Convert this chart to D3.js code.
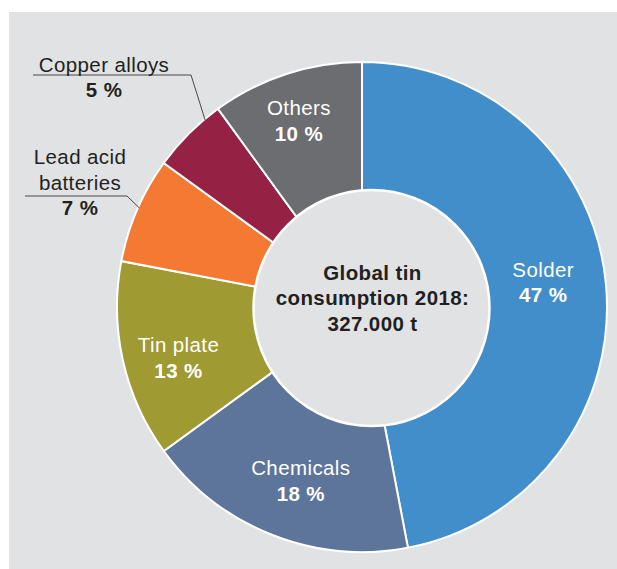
<!DOCTYPE html>
<html>
<head>
<meta charset="utf-8">
<script src="https://cdn.jsdelivr.net/npm/d3@7"></script>
<style>
  html, body { margin: 0; padding: 0; background: #fff; }
  svg { display: block; }
</style>
</head>
<body>
<div id="chart"></div>
<script>
var width = 617,
    height = 569;

// data
var categories = ["Solder", "Chemicals", "Tin plate", "Lead acid batteries", "Copper alloys", "Others"];
var shares = [47, 18, 13, 7, 5, 10];
var nameLines = [["Solder"], ["Chemicals"], ["Tin plate"], ["Lead acid", "batteries"], ["Copper alloys"], ["Others"]];
var centerLines = ["Global tin", "consumption 2018:", "327.000 t"];

var colors = ["#428ecb", "#5d759b", "#9f9a32", "#f47a33", "#952244", "#6c6d70"];

var cx = 362, cy = 307,
    outerR = 245,
    holeX = 371.5, holeY = 308, holeR = 118,
    lineH = 25.5,
    fontSize = 20.5,
    spacing = 0.4;

var data = categories.map(function (c, i) {
    return {name: c, value: shares[i], lines: nameLines[i], color: colors[i]};
});

var svg = d3.select("#chart").append("svg")
    .attr("width", width)
    .attr("height", height)
    .style("font-family", "Arial, 'Liberation Sans', Helvetica, sans-serif");

svg.append("rect")
    .attr("x", 9).attr("y", 12)
    .attr("width", width - 9).attr("height", height - 12)
    .attr("fill", "#e1e2e4");

var pie = d3.pie().sort(null).value(function (d) { return d.value; });
var arcs = pie(data);

var arc = d3.arc().innerRadius(0).outerRadius(outerR);
var labelArc = d3.arc().innerRadius(188).outerRadius(188);

var g = svg.append("g").attr("transform", "translate(" + cx + "," + cy + ")");

g.selectAll("path.slice")
    .data(arcs)
    .enter()
    .append("path")
    .attr("class", "slice")
    .attr("d", arc)
    .attr("fill", function (d) { return d.data.color; })
    .attr("stroke", "#fff")
    .attr("stroke-width", 2);

// the hole sits a little right of the ring centre in the original
svg.append("circle")
    .attr("cx", holeX).attr("cy", holeY).attr("r", holeR)
    .attr("fill", "#e1e2e4")
    .attr("stroke", "#fff")
    .attr("stroke-width", 2.5);

// small hand nudges for inside labels
var nudge = {
    "Solder": [-6, -7],
    "Others": [-5, -7],
    "Chemicals": [8, -1],
    "Tin plate": [0, 10]
};

// outside labels with leader lines
var outside = {
    "Copper alloys": {x: 104, y: 71.5, ruleY: 75, x0: 33, x1: 191, angle: 320},
    "Lead acid batteries": {x: 80, y: 164, ruleY: 196, x0: 25, x1: 127, angle: 294}
};

var textColor = "#231f20";

arcs.forEach(function (d) {
    var lines = d.data.lines.concat([d.data.value + " %"]);
    var o = outside[d.data.name];
    if (o) {
        var a = o.angle * Math.PI / 180;
        var px = cx + (outerR - 1) * Math.sin(a),
            py = cy - (outerR - 1) * Math.cos(a);
        svg.append("path")
            .attr("d", "M" + o.x0 + "," + o.ruleY + "H" + o.x1 + "L" + px + "," + py)
            .attr("fill", "none")
            .attr("stroke", textColor)
            .attr("stroke-width", 0.8);
        var t = svg.append("text")
            .attr("text-anchor", "middle")
            .attr("font-size", fontSize)
            .attr("letter-spacing", spacing)
            .attr("fill", textColor);
        lines.forEach(function (s, i) {
            t.append("tspan")
                .attr("x", o.x)
                .attr("y", o.y + i * lineH)
                .attr("font-weight", i === lines.length - 1 ? "bold" : "normal")
                .text(s);
        });
    } else {
        var c = labelArc.centroid(d),
            n = nudge[d.data.name] || [0, 0];
        var lx = cx + c[0] + n[0],
            ly = cy + c[1] + n[1];
        var t2 = svg.append("text")
            .attr("text-anchor", "middle")
            .attr("font-size", fontSize)
            .attr("letter-spacing", spacing)
            .attr("fill", "#fff");
        lines.forEach(function (s, i) {
            t2.append("tspan")
                .attr("x", lx)
                .attr("y", ly + (i - (lines.length - 1) / 2) * lineH + 7)
                .attr("font-weight", i === lines.length - 1 ? "bold" : "normal")
                .text(s);
        });
    }
});

var ct = svg.append("text")
    .attr("text-anchor", "middle")
    .attr("font-size", fontSize)
    .attr("letter-spacing", spacing)
    .attr("font-weight", "bold")
    .attr("fill", textColor);
centerLines.forEach(function (s, i) {
    ct.append("tspan")
        .attr("x", holeX + 1)
        .attr("y", 279.5 + i * lineH)
        .text(s);
});
</script>
</body>
</html>
